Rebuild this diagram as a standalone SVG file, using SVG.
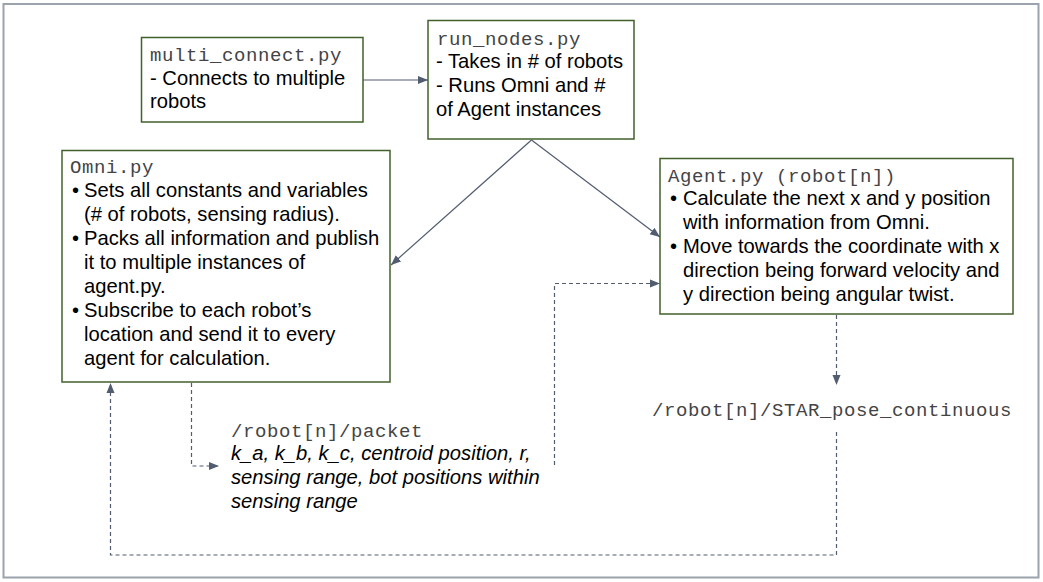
<svg xmlns="http://www.w3.org/2000/svg" width="1043" height="582" viewBox="0 0 1043 582">
<style>
.box{fill:#fff;stroke:#41602b;stroke-width:1.5}
.t{font-family:"Liberation Sans",Arial,sans-serif;font-size:20.2px;fill:#000}
.it{font-style:italic}
.m{font-family:"Liberation Mono","Courier New",monospace;font-size:19px;letter-spacing:0.6px;fill:#444}
.c{fill:none;stroke:#515c70;stroke-width:1.2}
.d{stroke-dasharray:4 3}
</style>
<defs>
<marker id="ah" viewBox="0 0 10 10" refX="10" refY="5" markerWidth="10" markerHeight="10" markerUnits="userSpaceOnUse" orient="auto">
<path d="M0,1 L10,5 L0,9 Z" fill="#515c70"/>
</marker>
</defs>
<rect x="3.5" y="4" width="1035" height="573.5" fill="#fff" stroke="#9ba3ad" stroke-width="2"/>
<g id="connectors">
<line class="c" x1="363" y1="80" x2="428" y2="80" marker-end="url(#ah)"/>
<line class="c" x1="531.5" y1="140" x2="391" y2="265" marker-end="url(#ah)"/>
<line class="c" x1="531.5" y1="140" x2="660" y2="237" marker-end="url(#ah)"/>
<polyline class="c d" points="191.5,383 191.5,466 219,466" marker-end="url(#ah)"/>
<polyline class="c d" points="554.5,465 554.5,283.5 660,283.5" marker-end="url(#ah)"/>
<line class="c d" x1="836.5" y1="315" x2="836.5" y2="385" marker-end="url(#ah)"/>
<polyline class="c d" points="836.5,432 836.5,555 110.5,555 110.5,383" marker-end="url(#ah)"/>
</g>
<g id="multi_connect">
<rect class="box" x="141.5" y="37.5" width="221.5" height="84.5"/>
<text class="m" x="150" y="61">multi_connect.py</text>
<text class="t" x="150" y="85">- Connects to multiple</text>
<text class="t" x="150" y="108">robots</text>
</g>
<g id="run_nodes">
<rect class="box" x="428" y="20.5" width="206" height="118.5"/>
<text class="m" x="437" y="45">run_nodes.py</text>
<text class="t" x="436" y="68">- Takes in # of robots</text>
<text class="t" x="436" y="92">- Runs Omni and #</text>
<text class="t" x="436" y="116">of Agent instances</text>
</g>
<g id="omni">
<rect class="box" x="62" y="150.5" width="328" height="231.5"/>
<text class="m" x="70" y="173">Omni.py</text>
<text class="t" x="72" y="197">•</text><text class="t" x="84" y="197">Sets all constants and variables</text>
<text class="t" x="84" y="221">(# of robots, sensing radius).</text>
<text class="t" x="72" y="245">•</text><text class="t" x="84" y="245">Packs all information and publish</text>
<text class="t" x="84" y="269">it to multiple instances of</text>
<text class="t" x="84" y="293">agent.py.</text>
<text class="t" x="72" y="317">•</text><text class="t" x="84" y="317">Subscribe to each robot’s</text>
<text class="t" x="84" y="341">location and send it to every</text>
<text class="t" x="84" y="365">agent for calculation.</text>
</g>
<g id="agent">
<rect class="box" x="660" y="158.5" width="353" height="155.5"/>
<text class="m" x="668" y="182">Agent.py (robot[n])</text>
<text class="t" x="670" y="205">•</text><text class="t" x="683" y="205">Calculate the next x and y position</text>
<text class="t" x="683" y="229">with information from Omni.</text>
<text class="t" x="670" y="253">•</text><text class="t" x="683" y="253">Move towards the coordinate with x</text>
<text class="t" x="683" y="277">direction being forward velocity and</text>
<text class="t" x="683" y="301">y direction being angular twist.</text>
</g>
<g id="packet">
<text class="m" x="231" y="437">/robot[n]/packet</text>
<text class="t it" x="231" y="460">k_a, k_b, k_c, centroid position, r,</text>
<text class="t it" x="231" y="484">sensing range, bot positions within</text>
<text class="t it" x="231" y="508">sensing range</text>
</g>
<g id="star_pose">
<text class="m" x="652" y="416">/robot[n]/STAR_pose_continuous</text>
</g>
</svg>
